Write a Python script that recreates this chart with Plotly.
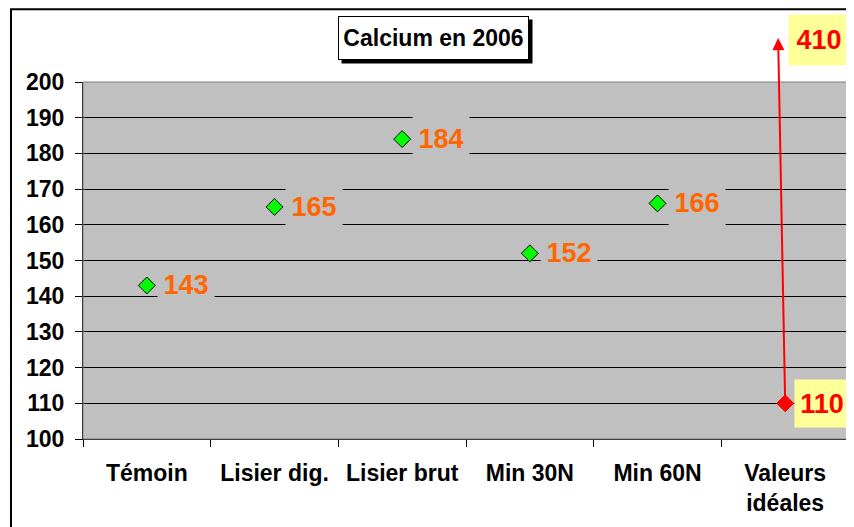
"""Calcium en 2006 - points with value labels, Plotly version."""

import plotly.graph_objects as go

# data
categories = ["Témoin", "Lisier dig.", "Lisier brut", "Min 30N", "Min 60N"]
calcium = [143, 165, 184, 152, 166]
ideal_category = "Valeurs<br>idéales"
ideal_low = 110
ideal_high = 410
y_ticks = list(range(100, 201, 10))

FONT = "Liberation Sans"
GRAY = "#C0C0C0"

fig = go.Figure()

# green diamonds for the measured values
fig.add_trace(go.Scatter(
    x=categories, y=calcium,
    mode="markers",
    marker=dict(symbol="diamond", size=13, color="#00FF00", line=dict(width=1, color="black")),
    hoverinfo="x+y",
    showlegend=False))

# red diamond for the ideal low value
fig.add_trace(go.Scatter(
    x=[ideal_category], y=[ideal_low],
    mode="markers",
    marker=dict(symbol="diamond", size=13, color="#FF0000", line=dict(width=1, color="#FF0000")),
    hoverinfo="x+y",
    showlegend=False))

annotations = []
# value labels, gray box hides the grid lines behind the text
for c, v in zip(categories, calcium):
    annotations.append(dict(
        x=c, y=v, xref="x", yref="y", text=f"<b>{v}</b>", showarrow=False,
        xshift=39, width=56, height=46, borderpad=0, bgcolor=GRAY,
        font=dict(family=FONT, size=27, color="#FF6600")))

# ideal values labels (yellow boxes)
annotations.append(dict(
    x=ideal_category, y=ideal_low, xref="x", yref="y", text=f"<b>{ideal_low}</b>", showarrow=False,
    xshift=37, width=54, height=47, borderpad=0, bgcolor="#FFFF99",
    font=dict(family=FONT, size=27, color="#FF0000")))
annotations.append(dict(
    x=ideal_category, y=y_ticks[-1], xref="x", yref="y", text=f"<b>{ideal_high}</b>", showarrow=False,
    xshift=34, yshift=42, width=60, height=50, borderpad=0, bgcolor="#FFFF99",
    font=dict(family=FONT, size=27, color="#FF0000")))

# arrow from the low ideal value towards the (off scale) high value
n_cat = len(categories)
annotations.append(dict(
    x=n_cat - 0.055, y=y_ticks[-1] + 12.3, xref="x", yref="y",
    ax=n_cat, ay=ideal_low, axref="x", ayref="y",
    text="", showarrow=True, arrowhead=2, arrowsize=1.2, arrowwidth=2,
    arrowcolor="#FF0000", standoff=0, startstandoff=0))

# title with drop shadow
annotations.append(dict(
    x=0.462, y=1.113, xref="paper", yref="paper", xanchor="center", yanchor="middle",
    text=" ", showarrow=False,
    width=190, height=43, borderpad=0, bgcolor="#000000"))
annotations.append(dict(
    x=0.458, y=1.122, xref="paper", yref="paper", xanchor="center", yanchor="middle",
    text="<b>Calcium en 2006</b>", showarrow=False,
    width=189, height=42, borderpad=0, bgcolor="white", bordercolor="black", borderwidth=1,
    font=dict(family=FONT, size=23, color="black")))

shapes = [
    # outer chart frame
    dict(type="rect", xref="paper", yref="paper", x0=-0.094, x1=1.2, y0=-0.5, y1=1.204,
         line=dict(color="black", width=2), layer="below"),
    # plot area border
    dict(type="rect", xref="paper", yref="paper", x0=0, x1=1, y0=0, y1=1,
         line=dict(color="#808080", width=1), layer="above"),
]

# the page body has an 8px margin, so the figure is sized and offset to compensate
fig.update_layout(
    width=846, height=519,
    margin=dict(l=75, r=5, t=74, b=88),
    paper_bgcolor="white",
    plot_bgcolor=GRAY,
    font=dict(family=FONT, size=23, color="black"),
    annotations=annotations,
    shapes=shapes,
    xaxis=dict(
        type="category",
        categoryorder="array", categoryarray=categories + [ideal_category],
        range=[-0.5, n_cat + 0.5],
        showgrid=False, showline=True, linecolor="black", linewidth=1,
        ticks="outside", ticklen=7, tickcolor="black",
        tickson="boundaries",
        tickfont=dict(family=FONT, size=23, color="black", weight="bold"),
        ticklabelstandoff=13),
    yaxis=dict(
        range=[y_ticks[0], y_ticks[-1]], tickvals=y_ticks,
        showgrid=True, gridcolor="black", gridwidth=1,
        showline=True, linecolor="black", linewidth=1, zeroline=False,
        ticks="outside", ticklen=7, tickcolor="black",
        tickfont=dict(family=FONT, size=23, color="black", weight="bold"),
        ticklabelstandoff=6),
)

fig.write_html("out.html")
